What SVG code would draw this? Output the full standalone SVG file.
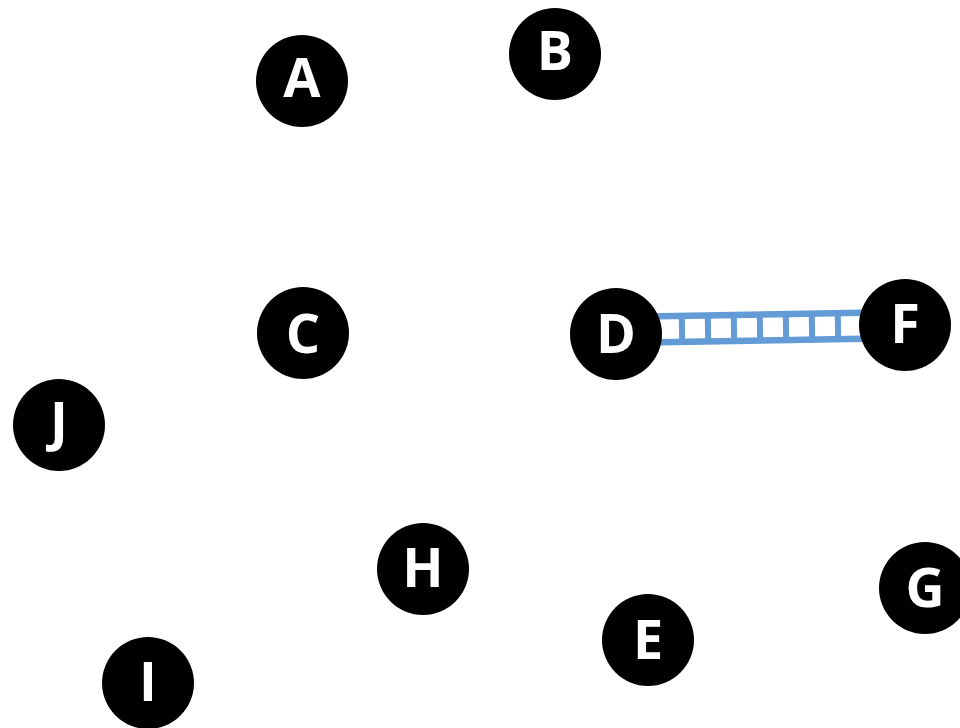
<svg xmlns="http://www.w3.org/2000/svg" width="960" height="728" viewBox="0 0 960 728">
<style>
.n circle{fill:#000}
.n text{fill:#fff;font-family:"Open Sans","DejaVu Sans",sans-serif;font-weight:bold;font-size:54px;text-anchor:middle}
.rail{stroke:#629BD5;stroke-width:6.5;fill:none}
.rung{stroke:#629BD5;stroke-width:6}
</style>
<rect width="960" height="728" fill="#fff"/>
<g id="connectors">
<g id="D-F" transform="translate(616,330) rotate(-0.99)">
<line class="rail" x1="0" y1="-13" x2="289" y2="-13"/>
<line class="rail" x1="0" y1="13" x2="289" y2="13"/>
<line class="rung" x1="66" y1="-13" x2="66" y2="13"/>
<line class="rung" x1="92" y1="-13" x2="92" y2="13"/>
<line class="rung" x1="118" y1="-13" x2="118" y2="13"/>
<line class="rung" x1="144" y1="-13" x2="144" y2="13"/>
<line class="rung" x1="170" y1="-13" x2="170" y2="13"/>
<line class="rung" x1="196" y1="-13" x2="196" y2="13"/>
<line class="rung" x1="222" y1="-13" x2="222" y2="13"/>
<line class="rung" x1="248" y1="-13" x2="248" y2="13"/>
</g>
</g>
<g id="A" class="n"><circle cx="302" cy="81" r="46"/><text x="302" y="97">A</text></g>
<g id="B" class="n"><circle cx="555" cy="54" r="46"/><text x="555" y="70">B</text></g>
<g id="C" class="n"><circle cx="303" cy="333" r="46"/><text x="303" y="353">C</text></g>
<g id="D" class="n"><circle cx="616" cy="334" r="46"/><text x="616" y="353">D</text></g>
<g id="F" class="n"><circle cx="905" cy="325" r="46"/><text x="905" y="343">F</text></g>
<g id="J" class="n"><circle cx="59" cy="425" r="46"/><text x="59" y="441">J</text></g>
<g id="H" class="n"><circle cx="423" cy="569" r="46"/><text x="423" y="587">H</text></g>
<g id="G" class="n"><circle cx="925" cy="588" r="46"/><text x="925" y="607">G</text></g>
<g id="E" class="n"><circle cx="648" cy="640" r="46"/><text x="648" y="659">E</text></g>
<g id="I" class="n"><circle cx="148" cy="683" r="46"/><text x="148" y="701">I</text></g>
</svg>
